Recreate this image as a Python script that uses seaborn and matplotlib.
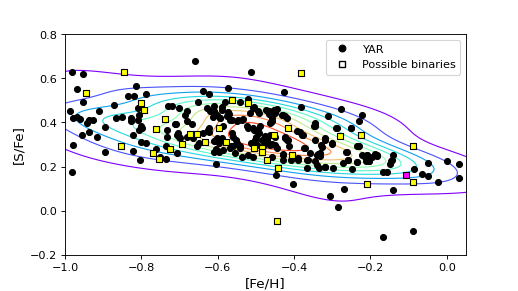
import numpy as np
import pandas as pd
import seaborn as sns
from matplotlib import pyplot as plt
from matplotlib.lines import Line2D

# YAR stars: [Fe/H], [S/Fe]
yar_feh = [
    -0.983, -0.952, -0.969, -0.987, -0.952, -0.980, -0.968, -0.961, -0.943, -0.936,
    -0.926, -0.910, -0.955, -0.936, -0.917, -0.895, -0.980, -0.983, -0.895, -0.873,
    -0.867, -0.850, -0.834, -0.820, -0.813, -0.827, -0.828, -0.810, -0.806, -0.808,
    -0.801, -0.806, -0.799, -0.823, -0.801, -0.821, -0.803, -0.788, -0.788, -0.762,
    -0.751, -0.736, -0.736, -0.734, -0.732, -0.729, -0.721, -0.702, -0.704, -0.702,
    -0.709, -0.707, -0.686, -0.680, -0.668, -0.664, -0.659, -0.655, -0.648, -0.651,
    -0.639, -0.624, -0.629, -0.624, -0.622, -0.611, -0.609, -0.613, -0.607, -0.604,
    -0.604, -0.598, -0.594, -0.590, -0.585, -0.582, -0.576, -0.574, -0.570, -0.568,
    -0.565, -0.559, -0.551, -0.546, -0.541, -0.536, -0.533, -0.524, -0.522, -0.515,
    -0.513, -0.513, -0.506, -0.505, -0.500, -0.498, -0.493, -0.491, -0.480, -0.476,
    -0.473, -0.472, -0.465, -0.461, -0.459, -0.452, -0.450, -0.449, -0.450, -0.447,
    -0.431, -0.429, -0.426, -0.423, -0.423, -0.419, -0.414, -0.409, -0.404, -0.389,
    -0.384, -0.381, -0.378, -0.373, -0.367, -0.364, -0.346, -0.345, -0.346, -0.345,
    -0.338, -0.336, -0.332, -0.330, -0.328, -0.319, -0.319, -0.310, -0.307, -0.301,
    -0.290, -0.286, -0.278, -0.269, -0.264, -0.260, -0.252, -0.249, -0.236, -0.231,
    -0.236, -0.231, -0.223, -0.221, -0.214, -0.213, -0.210, -0.204, -0.188, -0.183,
    -0.167, -0.167, -0.156, -0.150, -0.146, -0.143, -0.141, -0.140, -0.085, -0.089,
    -0.065, -0.050, -0.050, -0.022, 0.000, 0.031, 0.031,
    -0.681, -0.611, -0.620, -0.589, -0.572, -0.542, -0.507, -0.494, -0.467, -0.445,
    -0.458, -0.594, -0.603, -0.563, -0.550, -0.537, -0.520, -0.502, -0.489, -0.712,
    -0.707, -0.699, -0.681, -0.638, -0.625, -0.603, -0.589, -0.563, -0.559, -0.611,
    -0.598, -0.550, -0.542, -0.611, -0.585, -0.568, -0.555, -0.507, -0.494, -0.476,
    -0.463, -0.502, -0.485, -0.472, -0.511, -0.463, -0.445, -0.520, -0.507, -0.458,
    -0.450, -0.428, -0.419, -0.345, -0.349, -0.288, -0.251, -0.458, -0.463, -0.424,
    -0.415, -0.393, -0.380, -0.371, -0.358, -0.341, -0.332, -0.319, -0.301, -0.262,
    -0.232, -0.210, -0.196, -0.183, -0.258, -0.236, -0.205, -0.428, -0.428, -0.389,
    -0.367, -0.341, -0.319, -0.297, -0.271,
]
yar_sfe = [
    0.629, 0.620, 0.552, 0.450, 0.492, 0.420, 0.424, 0.417, 0.397, 0.409,
    0.412, 0.450, 0.344, 0.356, 0.333, 0.380, 0.297, 0.173, 0.265, 0.480,
    0.418, 0.424, 0.518, 0.518, 0.567, 0.420, 0.405, 0.465, 0.435, 0.412,
    0.382, 0.367, 0.373, 0.342, 0.311, 0.271, 0.230, 0.306, 0.529, 0.279,
    0.245, 0.235, 0.291, 0.367, 0.336, 0.473, 0.476, 0.465, 0.352, 0.333,
    0.394, 0.261, 0.435, 0.405, 0.394, 0.329, 0.680, 0.294, 0.306, 0.495,
    0.541, 0.529, 0.465, 0.374, 0.355, 0.442, 0.476, 0.424, 0.315, 0.279,
    0.212, 0.268, 0.420, 0.470, 0.382, 0.491, 0.427, 0.556, 0.439, 0.409,
    0.291, 0.291, 0.321, 0.412, 0.283, 0.245, 0.415, 0.382, 0.506, 0.442,
    0.306, 0.629, 0.367, 0.470, 0.336, 0.298, 0.442, 0.352, 0.298, 0.339,
    0.455, 0.321, 0.439, 0.400, 0.303, 0.458, 0.442, 0.333, 0.298, 0.162,
    0.435, 0.258, 0.538, 0.427, 0.333, 0.321, 0.291, 0.230, 0.120, 0.230,
    0.358, 0.470, 0.344, 0.283, 0.192, 0.230, 0.321, 0.223, 0.394, 0.385,
    0.258, 0.192, 0.248, 0.298, 0.288, 0.321, 0.200, 0.427, 0.067, 0.303,
    0.374, 0.015, 0.462, 0.097, 0.268, 0.230, 0.374, 0.188, 0.291, 0.291,
    0.220, 0.408, 0.250, 0.435, 0.245, 0.223, 0.250, 0.223, 0.256, 0.248,
    0.177, -0.118, 0.177, 0.212, 0.223, 0.230, 0.253, 0.094, 0.188, -0.091,
    0.167, 0.218, 0.158, 0.129, 0.226, 0.211, 0.150,
    0.450, 0.453, 0.450, 0.458, 0.447, 0.495, 0.465, 0.450, 0.453, 0.462,
    0.405, 0.420, 0.432, 0.412, 0.408, 0.412, 0.377, 0.367, 0.382, 0.393,
    0.344, 0.329, 0.336, 0.352, 0.367, 0.329, 0.329, 0.352, 0.336, 0.314,
    0.306, 0.306, 0.291, 0.268, 0.276, 0.284, 0.261, 0.375, 0.359, 0.336,
    0.344, 0.321, 0.321, 0.321, 0.306, 0.299, 0.284, 0.253, 0.245, 0.245,
    0.458, 0.435, 0.420, 0.397, 0.382, 0.375, 0.375, 0.420, 0.397, 0.329,
    0.321, 0.359, 0.344, 0.286, 0.261, 0.253, 0.261, 0.329, 0.306, 0.268,
    0.291, 0.253, 0.245, 0.253, 0.230, 0.220, 0.223, 0.253, 0.230, 0.238,
    0.230, 0.208, 0.200, 0.193, 0.215,
]

# possible binaries
bin_feh = [
    -0.845, -0.945, -0.854, -0.801, -0.793, -0.762, -0.737, -0.769, -0.754, -0.725,
    -0.693, -0.672, -0.655, -0.633, -0.596, -0.578, -0.562, -0.521, -0.505, -0.483,
    -0.483, -0.472, -0.452, -0.441, -0.415, -0.406, -0.383, -0.445, -0.281, -0.225,
    -0.208, -0.089, -0.089,
]
bin_sfe = [
    0.627, 0.533, 0.295, 0.488, 0.456, 0.371, 0.415, 0.261, 0.233, 0.279,
    0.303, 0.348, 0.347, 0.311, 0.373, 0.311, 0.503, 0.486, 0.283, 0.283,
    0.264, 0.229, 0.344, 0.195, 0.374, 0.250, 0.624, -0.048, 0.339, 0.342,
    0.121, 0.294, 0.129,
]

# the one highlighted star
pink_feh = [-0.107]
pink_sfe = [0.162]

yar = pd.DataFrame({'feh': yar_feh, 'sfe': yar_sfe})

fig = plt.figure(figsize=(6.4, 3.6), dpi=80.94)
ax = fig.add_axes([0.1255, 0.1247, 0.774, 0.7563])

# density contours
sns.kdeplot(data=yar, x='feh', y='sfe', levels=11, thresh=0.06, bw_adjust=1.25,
            cmap='rainbow', linewidths=1.0, ax=ax)

ax.scatter(yar_feh, yar_sfe, s=28, color='black', zorder=3)
ax.scatter(bin_feh, bin_sfe, s=30, marker='s', facecolor='yellow',
           edgecolor='black', linewidth=1.0, zorder=4)
ax.scatter(pink_feh, pink_sfe, s=30, marker='s', facecolor='magenta',
           edgecolor='black', linewidth=1.0, zorder=4)

ax.set_xlim(-1.0, 0.05)
ax.set_ylim(-0.2, 0.8)
ax.set_xticks([-1.0, -0.8, -0.6, -0.4, -0.2, 0.0])
ax.set_yticks([-0.2, 0.0, 0.2, 0.4, 0.6, 0.8])
ax.tick_params(labelsize=10)
ax.set_xlabel('[Fe/H]', fontsize=12)
ax.set_ylabel('[S/Fe]', fontsize=12)

handles = [
    Line2D([0], [0], marker='o', color='black', markerfacecolor='black',
           linestyle='none', markersize=6),
    Line2D([0], [0], marker='s', color='black', markerfacecolor='white',
           markeredgecolor='black', markeredgewidth=1.2, linestyle='none', markersize=6),
]
ax.legend(handles=handles, labels=['YAR', 'Possible binaries'],
          loc='upper right', fontsize=10, numpoints=1)

fig.savefig('out.png', dpi=80.94)
